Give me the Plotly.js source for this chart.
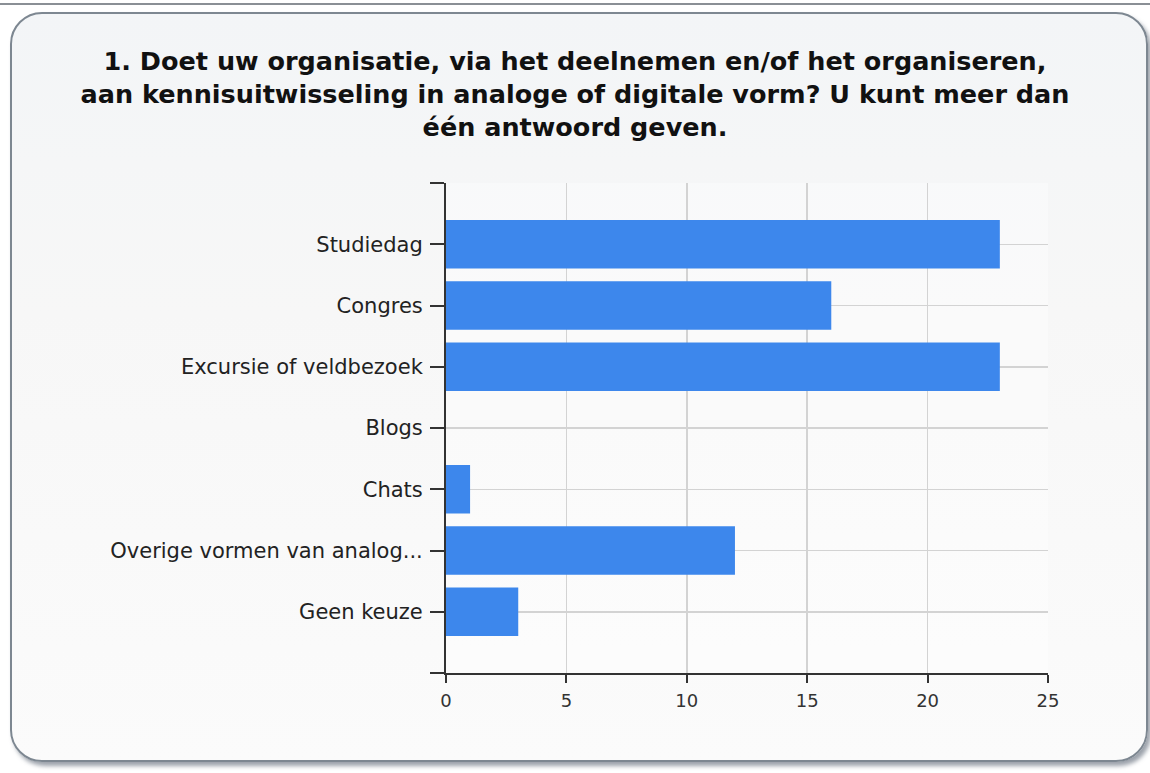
<!DOCTYPE html>
<html>
<head>
<meta charset="utf-8">
<script src="https://cdn.plot.ly/plotly-3.0.1.min.js"></script>
<style>
  html, body { margin:0; padding:0; width:1150px; height:773px; background:#ffffff; overflow:hidden; }
  #topline { position:absolute; left:0; top:3px; width:1150px; height:2px; background:#8a8f95; }
  #panel { position:absolute; left:10px; top:12px; width:1134px; height:746px;
           border:2px solid #7d8791; border-radius:32px;
           background:linear-gradient(to bottom, #f3f5f7 0%, #f7f7f7 40%, #fbfbfb 100%);
           box-shadow:3px 4px 4px rgba(90,100,115,0.6); }
  #chart { position:absolute; left:0; top:0; width:1150px; height:773px; }
</style>
</head>
<body>
<div id="topline"></div>
<div id="panel"></div>
<div id="chart"></div>
<script>
const titleText = "1. Doet uw organisatie, via het deelnemen en/of het organiseren,<br>aan kennisuitwisseling in analoge of digitale vorm? U kunt meer dan<br>één antwoord geven.";
const categories = ["Studiedag", "Congres", "Excursie of veldbezoek", "Blogs", "Chats", "Overige vormen van analog...", "Geen keuze"];
const counts = [23, 16, 23, 0, 1, 12, 3];
const xTicks = [0, 5, 10, 15, 20, 25];

const yPos = categories.map((c, i) => i);
const yTickVals = [-1].concat(yPos, [categories.length]);
const yTickText = [""].concat(categories, [""]);

const trace = {
  type: "bar",
  orientation: "h",
  x: counts,
  y: yPos,
  width: 0.79,
  marker: { color: "#3d87ec", line: { width: 0 } },
  hoverinfo: "x+text",
  text: categories,
  textposition: "none"
};

const layout = {
  width: 1150, height: 773,
  paper_bgcolor: "rgba(0,0,0,0)",
  plot_bgcolor: "rgba(255,255,255,0.35)",
  margin: { l: 446, r: 102, t: 183, b: 100, pad: 0 },
  showlegend: false,
  title: {
    text: titleText,
    font: { family: "DejaVu Sans", size: 25.5, color: "#111111", weight: "bold" },
    x: 0.5, xref: "container", xanchor: "center",
    y: 0.91, yref: "container", yanchor: "top"
  },
  xaxis: {
    range: [0, 25],
    tickvals: xTicks,
    ticktext: xTicks.map(String),
    ticks: "outside", ticklen: 8, tickwidth: 2, tickcolor: "#333333",
    showline: true, linecolor: "#333333", linewidth: 2,
    showgrid: true, gridcolor: "#d3d3d3", gridwidth: 1.5,
    zeroline: false,
    ticklabelstandoff: 2,
    tickfont: { family: "DejaVu Sans", size: 18, color: "#333333" },
    fixedrange: true
  },
  yaxis: {
    range: [categories.length, -1],
    tickvals: yTickVals,
    ticktext: yTickText,
    ticks: "outside", ticklen: 14, tickwidth: 2, tickcolor: "#333333",
    showline: true, linecolor: "#333333", linewidth: 2,
    showgrid: true, gridcolor: "#d3d3d3", gridwidth: 1.5,
    zeroline: false,
    ticklabelstandoff: 3,
    tickfont: { family: "DejaVu Sans", size: 21, color: "#222222" },
    fixedrange: true
  }
};

Plotly.newPlot("chart", [trace], layout, { displayModeBar: false, staticPlot: true });
</script>
</body>
</html>
